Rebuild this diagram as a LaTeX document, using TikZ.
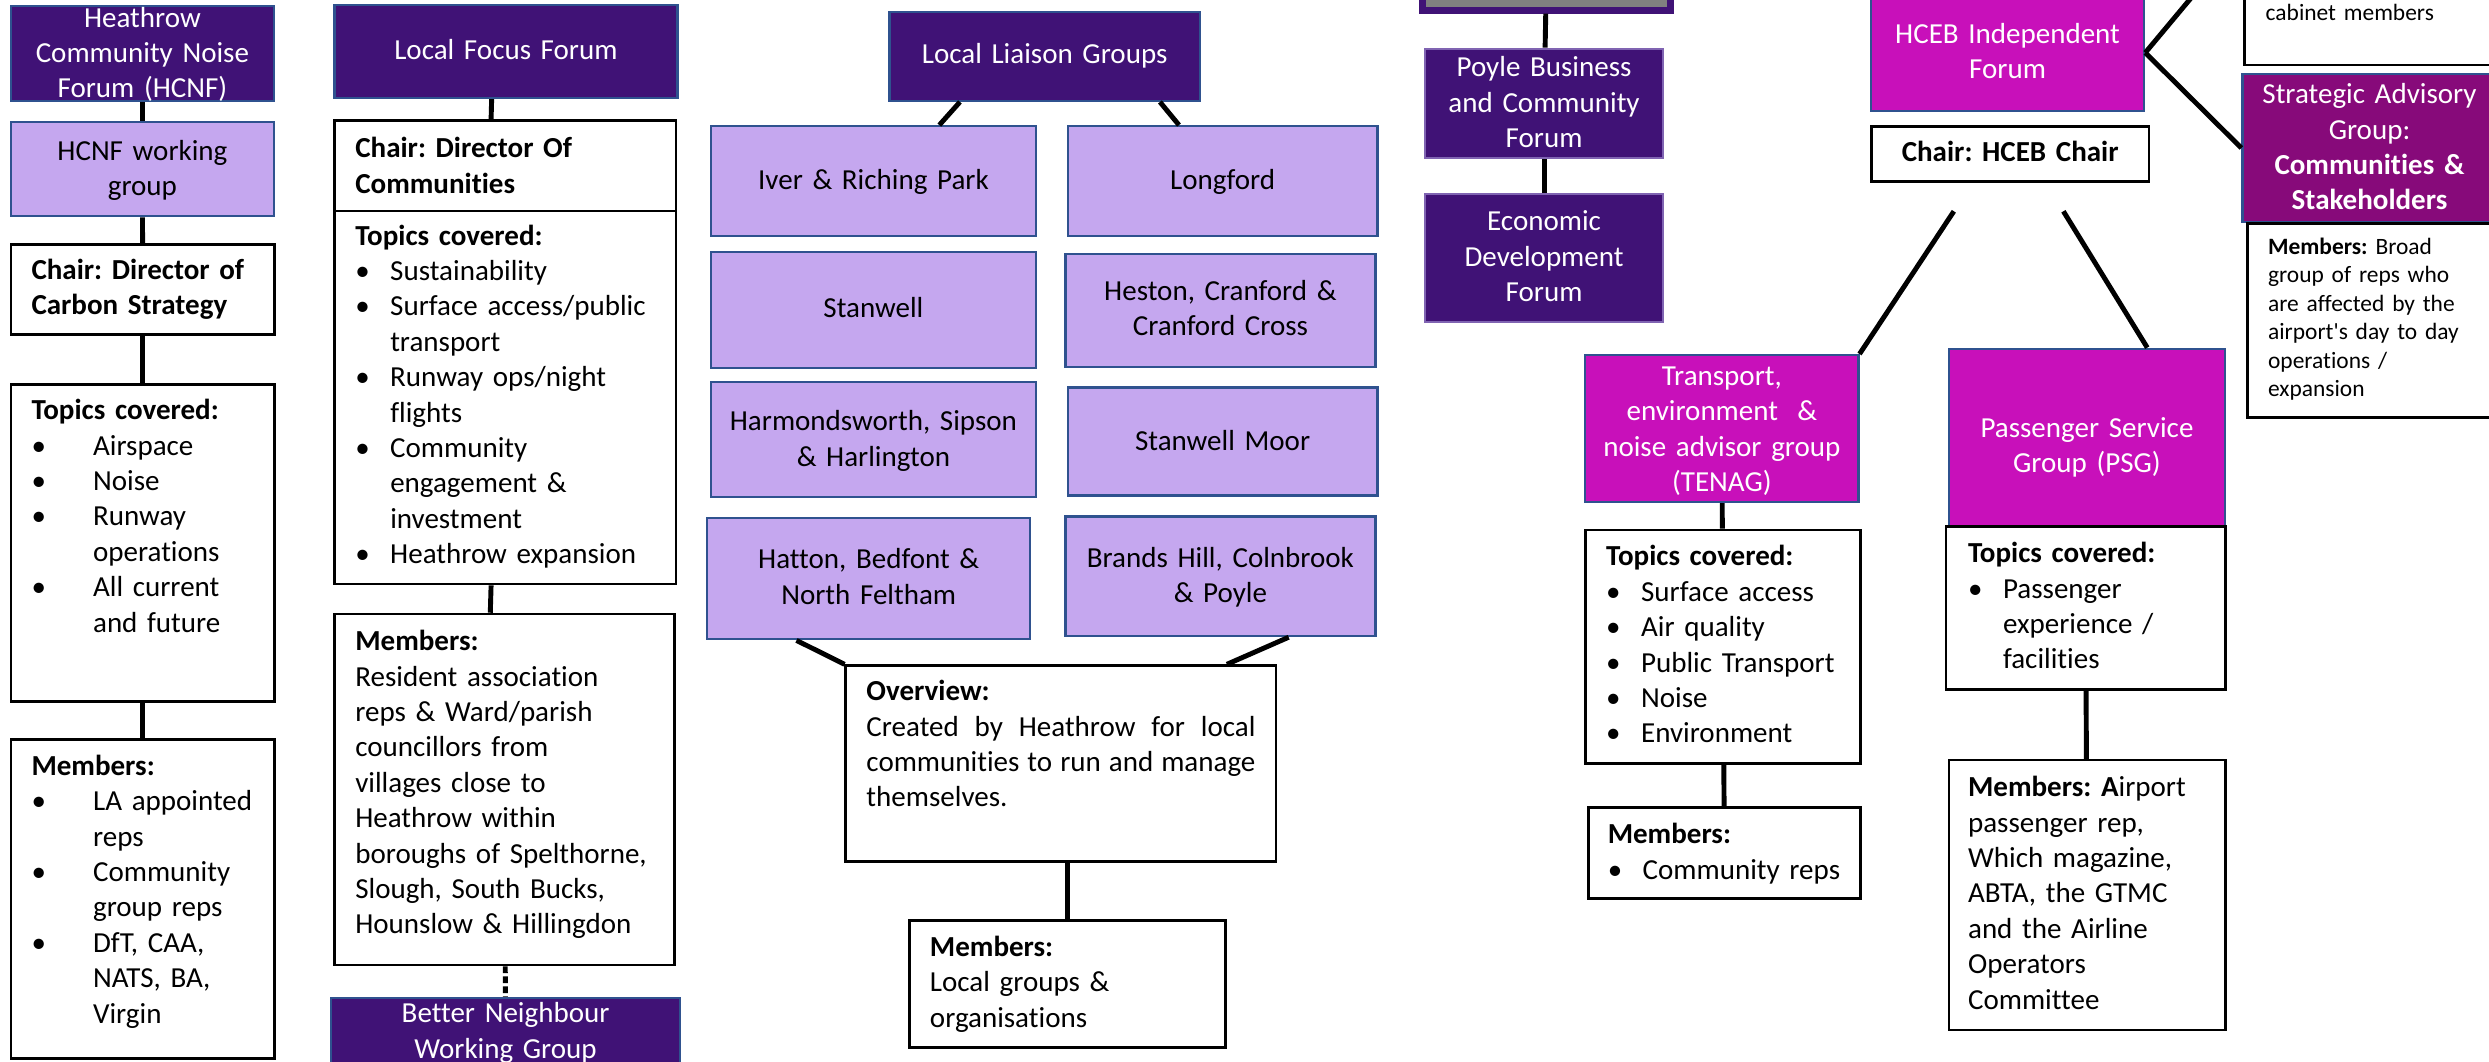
\documentclass[tikz,border=0pt]{standalone}
\usepackage{fontspec}
\setmainfont{Carlito}[Ligatures={TeX,NoCommon}]
\usetikzlibrary{calc}

\definecolor{darkp}{RGB}{64,18,118}
\definecolor{lilac}{RGB}{197,167,239}
\definecolor{pinkp}{RGB}{200,16,186}
\definecolor{plum}{RGB}{135,10,122}
\definecolor{edgeblue}{RGB}{47,82,143}
\definecolor{edgelilac}{RGB}{128,100,178}

\newcommand{\bul}{\makebox[0.55cm][l]{\textbullet}}
\newcommand{\ind}{\hspace*{0.55cm}}
\newcommand{\bulw}{\makebox[0.97cm][l]{\textbullet}}
\newcommand{\indw}{\hspace*{0.97cm}}
\frenchspacing

\begin{document}
\begin{tikzpicture}
  [x=0.025cm, y=-0.025cm, font=\fontsize{13}{15.86}\selectfont]
  \tikzstyle{box} = [anchor=north west, inner ysep=0pt, line width=1pt];
  \tikzstyle{dark_box}  = [box, fill=darkp, draw=edgeblue, text=white, align=center, inner xsep=0.075cm];
  \tikzstyle{lilac_box} = [box, fill=lilac, draw=edgeblue, align=center, inner xsep=0.075cm];
  \tikzstyle{pink_box}  = [box, fill=pinkp, draw=edgeblue, text=white, align=center, inner xsep=0.075cm];
  \tikzstyle{white_box} = [box, fill=white, draw=black, line width=1.2pt, align=left, inner xsep=0.325cm];
  \tikzstyle{small_text} = [font=\fontsize{10.5}{12.8}\selectfont];
  \tikzstyle{link} = [line width=2.2pt];

  \useasboundingbox (0, 0) rectangle (1568, 668.4);
  \clip (0, 0) rectangle (1568, 668.4);

  % HCNF
  \node[dark_box, text width=4cm, text height=0.3325cm, text depth=1.1675cm] (hcnf) at (6, 3)
    {Heathrow\\ Community Noise\\ Forum (HCNF)};
  \node[lilac_box, text width=4cm, text height=0.605cm, text depth=0.8825cm] (hcnf_group) at (6, 76)
    {HCNF working\\ group};
  \node[white_box, text width=3.5cm, text height=0.5525cm, text depth=0.8725cm] (hcnf_chair) at (6, 153)
    {\textbf{Chair: Director of}\\ \textbf{Carbon Strategy}};
  \node[white_box, text width=3.5cm, text height=0.5525cm, text depth=4.435cm] (hcnf_topics) at (6, 241.5)
    {\textbf{Topics covered:}\\ \bulw Airspace\\ \bulw Noise\\ \bulw Runway\\ \indw operations\\
     \bulw All current\\ \indw and future};
  \node[white_box, text width=3.5cm, text height=0.565cm, text depth=4.46cm] (hcnf_members) at (6, 465)
    {\textbf{Members:}\\ \bulw \mbox{LA appointed}\\ \indw reps\\ \bulw Community\\ \indw group reps\\
     \bulw DfT, CAA,\\ \indw NATS, BA,\\ \indw Virgin};

  % Local Focus Forum
  \node[dark_box, text width=5.25cm, text height=0.85cm, text depth=0.61cm] (lff) at (210, 2.6)
    {Local Focus Forum};
  \node[white_box, text width=4.725cm, text height=0.59cm, text depth=0.835cm] (lff_chair) at (210, 75)
    {\textbf{Chair: Director Of}\\ \textbf{Communities}};
  \node[white_box, text width=4.725cm, text height=0.54cm, text depth=5.335cm] (lff_topics) at (210, 132)
    {\textbf{Topics covered:}\\ \bul Sustainability\\ \bul \mbox{Surface access/public}\\ \ind transport\\
     \bul Runway ops/night\\ \ind flights\\ \bul Community\\ \ind engagement \&\\ \ind investment\\
     \bul \mbox{Heathrow expansion}};
  \node[white_box, text width=4.7cm, text height=0.5775cm, text depth=4.9475cm] (lff_members) at (210, 386)
    {\textbf{Members:}\\ Resident association\\ reps \& Ward/parish\\ councillors from\\ villages close to\\
     Heathrow within\\ \mbox{boroughs of Spelthorne,}\\ Slough, South Bucks,\\ \mbox{Hounslow \& Hillingdon}};
  \node[dark_box, text width=5.3375cm, text height=0.39cm, text depth=0.86cm] (better) at (208, 628)
    {Better Neighbour\\ Working Group};

  % Local Liaison Groups
  \node[dark_box, text width=4.74cm, text height=0.82cm, text depth=0.58cm] (llg) at (559.6, 6.8)
    {Local Liaison Groups};
  \node[lilac_box, text width=4.975cm, text height=0.9925cm, text depth=0.7375cm] (iver) at (447, 78.8)
    {Iver \& Riching Park};
  \node[lilac_box, text width=4.725cm, text height=0.9925cm, text depth=0.7375cm] (longford) at (672, 78.8)
    {Longford};
  \node[lilac_box, text width=4.975cm, text height=1.035cm, text depth=0.79cm] (stanwell) at (447, 158)
    {Stanwell};
  \node[lilac_box, text width=4.73cm, text height=0.7325cm, text depth=1.0525cm] (heston) at (670.5, 159.3)
    {Heston, Cranford \&\\ Cranford Cross};
  \node[lilac_box, text width=4.975cm, text height=0.765cm, text depth=1.05cm] (harmondsworth) at (447, 240)
    {\mbox{Harmondsworth, Sipson}\\ \& Harlington};
  \node[lilac_box, text width=4.725cm, text height=0.995cm, text depth=0.705cm] (stanwell_moor) at (672, 243.4)
    {Stanwell Moor};
  \node[lilac_box, text width=4.9375cm, text height=0.795cm, text depth=1.11cm] (hatton) at (444.8, 325.8)
    {Hatton, Bedfont \&\\ North Feltham};
  \node[lilac_box, text width=4.73cm, text height=0.7975cm, text depth=1.085cm] (brands) at (670.5, 324.7)
    {\mbox{Brands Hill, Colnbrook}\\ \& Poyle};
  \node[white_box, align=justify, text width=6.125cm, text height=0.5525cm, text depth=2.535cm] (overview) at (532, 418.5)
    {\textbf{Overview:}\\ Created by Heathrow for local\linebreak communities to run and manage\linebreak themselves.};
  \node[white_box, text width=4.325cm, text height=0.565cm, text depth=1.435cm] (llg_members) at (572, 579)
    {\textbf{Members:}\\ Local groups \&\\ organisations};

  % Poyle
  \node[box, fill=gray, draw=darkp, line width=3pt, inner sep=0pt, minimum width=3.9cm, minimum height=0.86cm] (top_forum) at (894, -30) {};
  \node[dark_box, draw=edgelilac, text width=3.6cm, text height=0.44cm, text depth=1.285cm] (poyle) at (897, 30)
    {Poyle Business\\ and Community\\ Forum};
  \node[dark_box, draw=edgelilac, text width=3.6cm, text height=0.5775cm, text depth=1.435cm] (economic) at (897, 121.5)
    {Economic\\ Development\\ Forum};

  % HCEB
  \node[pink_box, text width=4.15cm, text height=0.765cm, text depth=1.06cm] (hceb) at (1178, -4)
    {HCEB Independent\\ Forum};
  \node[white_box, align=center, inner xsep=0.075cm, text width=4.225cm, text height=0.54cm, text depth=0.32cm] (hceb_chair) at (1178, 79)
    {\textbf{Chair: HCEB Chair}};
  \node[white_box, small_text, inner xsep=0.3375cm, text width=3.575cm, text height=1.0525cm, text depth=0.6975cm] (cabinet) at (1413, -30)
    {cabinet members};
  \node[box, fill=plum, draw=edgeblue, text=white, align=center, inner xsep=0.075cm, text width=3.85cm, text height=0.465cm, text depth=1.86cm] (strategic) at (1412, 46)
    {Strategic Advisory\\ Group:\\ \textbf{Communities \&}\\ \textbf{Stakeholders}};
  \node[white_box, small_text, text width=3.6cm, text height=0.48cm, text depth=2.57cm] (strategic_members) at (1415, 140)
    {\textbf{Members:} Broad\\ group of reps who\\ are affected by the\\ airport\textquotesingle s day to day\\ operations /\\ expansion};
  \node[pink_box, text width=4.15cm, text height=0.4775cm, text depth=1.835cm] (tenag) at (998, 223)
    {Transport,\\ environment\ \ \&\\ noise advisor group\\ (TENAG)};
  \node[pink_box, text width=4.2cm, text height=1.39cm, text depth=1.41cm] (psg) at (1227, 219)
    {Passenger Service\\ Group (PSG)};
  \node[white_box, text width=3.675cm, text height=0.565cm, text depth=3.11cm] (tenag_topics) at (998, 333)
    {\textbf{Topics covered:}\\ \bul Surface access\\ \bul Air quality\\ \bul \mbox{Public Transport}\\ \bul Noise\\ \bul Environment};
  \node[white_box, inner xsep=0.3cm, text width=3.675cm, text height=0.565cm, text depth=0.86cm] (tenag_members) at (1000, 508)
    {\textbf{Members:}\\ \bul \mbox{Community reps}};
  \node[white_box, inner xsep=0.35cm, text width=3.7cm, text height=0.565cm, text depth=1.9975cm] (psg_topics) at (1225, 331)
    {\textbf{Topics covered:}\\ \bul Passenger\\ \ind experience /\\ \ind facilities};
  \node[white_box, inner xsep=0.3cm, text width=3.75cm, text height=0.5775cm, text depth=3.6725cm] (psg_members) at (1227, 478)
    {\textbf{Members: A}irport\\ passenger rep,\\ Which magazine,\\ ABTA, the GTMC\\ and the Airline\\ Operators\\ Committee};

  \coordinate (hceb_up) at (1383.4, -5);
  \coordinate (chair_left) at ($(hceb_chair.south)+(-35.5,18)$);
  \coordinate (chair_right) at ($(hceb_chair.south)+(33.5,18)$);

  \draw[link] (hcnf) -- (hcnf_group);
  \draw[link] (hcnf_group) -- (hcnf_chair);
  \draw[link] (hcnf_chair) -- (hcnf_topics);
  \draw[link] (hcnf_topics) -- (hcnf_members);

  \draw[link] ($(lff.south)+(-9,0)$) -- ($(lff_chair.north)+(-9,0)$);
  \draw[link] ($(lff_topics.south)+(-9,0)$) -- ($(lff_members.north)+(-9,0)$);
  \draw[link, dash pattern=on 3pt off 1.5pt] (lff_members) -- (better);

  \draw[link] ($(llg.south)+(-53.4,0)$) -- ($(iver.north)+(41.5,0)$);
  \draw[link] ($(llg.south)+(72.6,0)$) -- ($(longford.north)+(-27.5,0)$);
  \draw[link] ($(hatton.south)+(-45.5,0)$) -- (overview.north west);
  \draw[link] ($(brands.south)+(43,0)$) -- ($(overview.north)+(104.5,0)$);
  \draw[link] (overview.south -| llg_members.north) -- (llg_members.north);

  \draw[link] (top_forum) -- (poyle);
  \draw[link] (poyle) -- (economic);

  \draw[link] (hceb.east) -- (hceb_up);
  \draw[link] (hceb.east) -- (strategic.west);
  \draw[link] (chair_left) -- (tenag.north east);
  \draw[link] (chair_right) -- ($(psg.north)+(38,0)$);
  \draw[link] (tenag) -- (tenag_topics);
  \draw[link] (tenag_topics) -- (tenag_members);
  \draw[link] (psg_topics) -- (psg_members);

\end{tikzpicture}
\end{document}
